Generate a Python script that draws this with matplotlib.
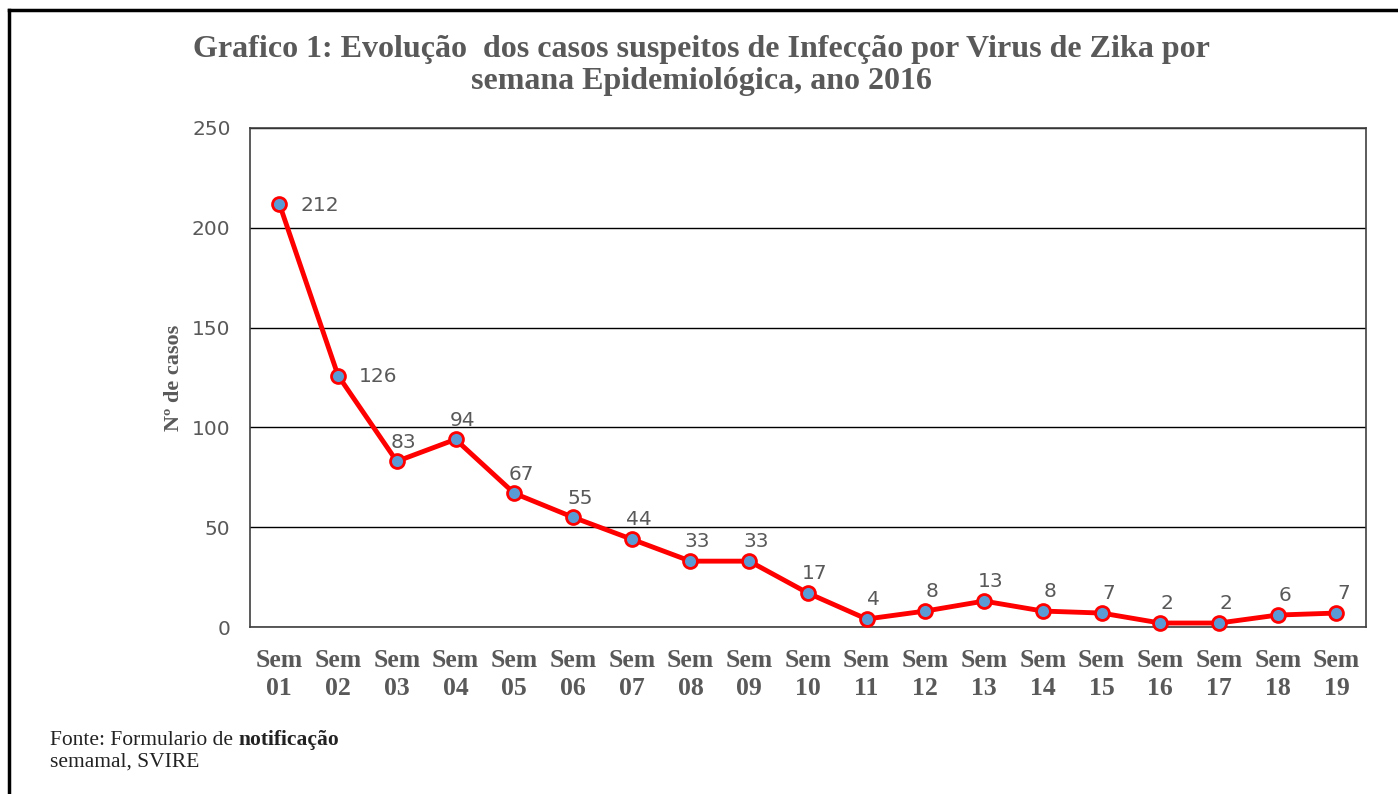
import matplotlib.pyplot as plt
from matplotlib.lines import Line2D

# data
semanas = ["Sem\n01", "Sem\n02", "Sem\n03", "Sem\n04", "Sem\n05", "Sem\n06", "Sem\n07",
           "Sem\n08", "Sem\n09", "Sem\n10", "Sem\n11", "Sem\n12", "Sem\n13", "Sem\n14",
           "Sem\n15", "Sem\n16", "Sem\n17", "Sem\n18", "Sem\n19"]
casos = [212, 126, 83, 94, 67, 55, 44, 33, 33, 17, 4, 8, 13, 8, 7, 2, 2, 6, 7]
y_ticks = [0, 50, 100, 150, 200, 250]

gray = "#595959"
serif = "Liberation Serif"

fig = plt.figure(figsize=(13.98, 7.94), dpi=100)
ax = fig.add_axes([0.1788, 0.2103, 0.7982, 0.6285])

x = list(range(len(casos)))
ax.plot(x, casos, color="#ff0000", linewidth=3.5, marker="o", markersize=10,
        markerfacecolor="#5b9bd5", markeredgecolor="#ff0000", markeredgewidth=2,
        zorder=3, clip_on=False)

# data labels: first two on the right, the rest above
for i, v in enumerate(casos):
    if i < 2:
        ax.annotate(str(v), (i, v), xytext=(15, -1), textcoords="offset points",
                    ha="left", va="center", fontsize=14.5, color=gray,
                    family="DejaVu Sans")
    else:
        ax.annotate(str(v), (i, v), xytext=(5, 7), textcoords="offset points",
                    ha="center", va="bottom", fontsize=14.5, color=gray,
                    family="DejaVu Sans")

ax.set_xlim(-0.5, len(casos) - 0.5)
ax.set_ylim(0, 250)
ax.set_yticks(y_ticks)
ax.set_xticks(x)
ax.set_xticklabels(semanas, family=serif, fontweight="bold", fontsize=18.5,
                   color=gray, linespacing=1.25)
ax.tick_params(axis="y", labelsize=14.5, labelcolor=gray, length=0, pad=14)
ax.tick_params(axis="x", length=0, pad=16)
ax.grid(axis="y", color="black", linewidth=1)
ax.set_axisbelow(True)
for s in ax.spines.values():
    s.set_color("#404040")
    s.set_linewidth(1.2)

ax.set_ylabel("Nº de casos", family=serif, fontweight="bold", fontsize=16,
              color=gray, labelpad=6)

# title
fig.text(0.502, 0.938, "Grafico 1: Evolução  dos casos suspeitos de Infecção por Virus de Zika por",
         ha="center", va="center", family=serif, fontweight="bold", fontsize=23, color=gray)
fig.text(0.502, 0.897, "semana Epidemiológica, ano 2016",
         ha="center", va="center", family=serif, fontweight="bold", fontsize=23, color=gray)

# source note
t1 = fig.text(0.036, 0.062, "Fonte: Formulario de ", family=serif, fontsize=15.5,
              color="#222222", va="baseline")
ax.annotate("notificação", xy=(1, 0), xycoords=t1, va="bottom", ha="left",
            family=serif, fontsize=15.5, fontweight="bold", color="#222222",
            annotation_clip=False)
fig.text(0.036, 0.034, "semamal, SVIRE", family=serif, fontsize=15.5,
         color="#222222", va="baseline")

# outer frame (top and left edges visible)
fig.add_artist(Line2D([0.0065, 0.0065], [0, 0.988], color="black", linewidth=2.5,
                      transform=fig.transFigure))
fig.add_artist(Line2D([0.0065, 1], [0.988, 0.988], color="black", linewidth=2.5,
                      transform=fig.transFigure))

fig.savefig("out.png", dpi=100, facecolor="white")
